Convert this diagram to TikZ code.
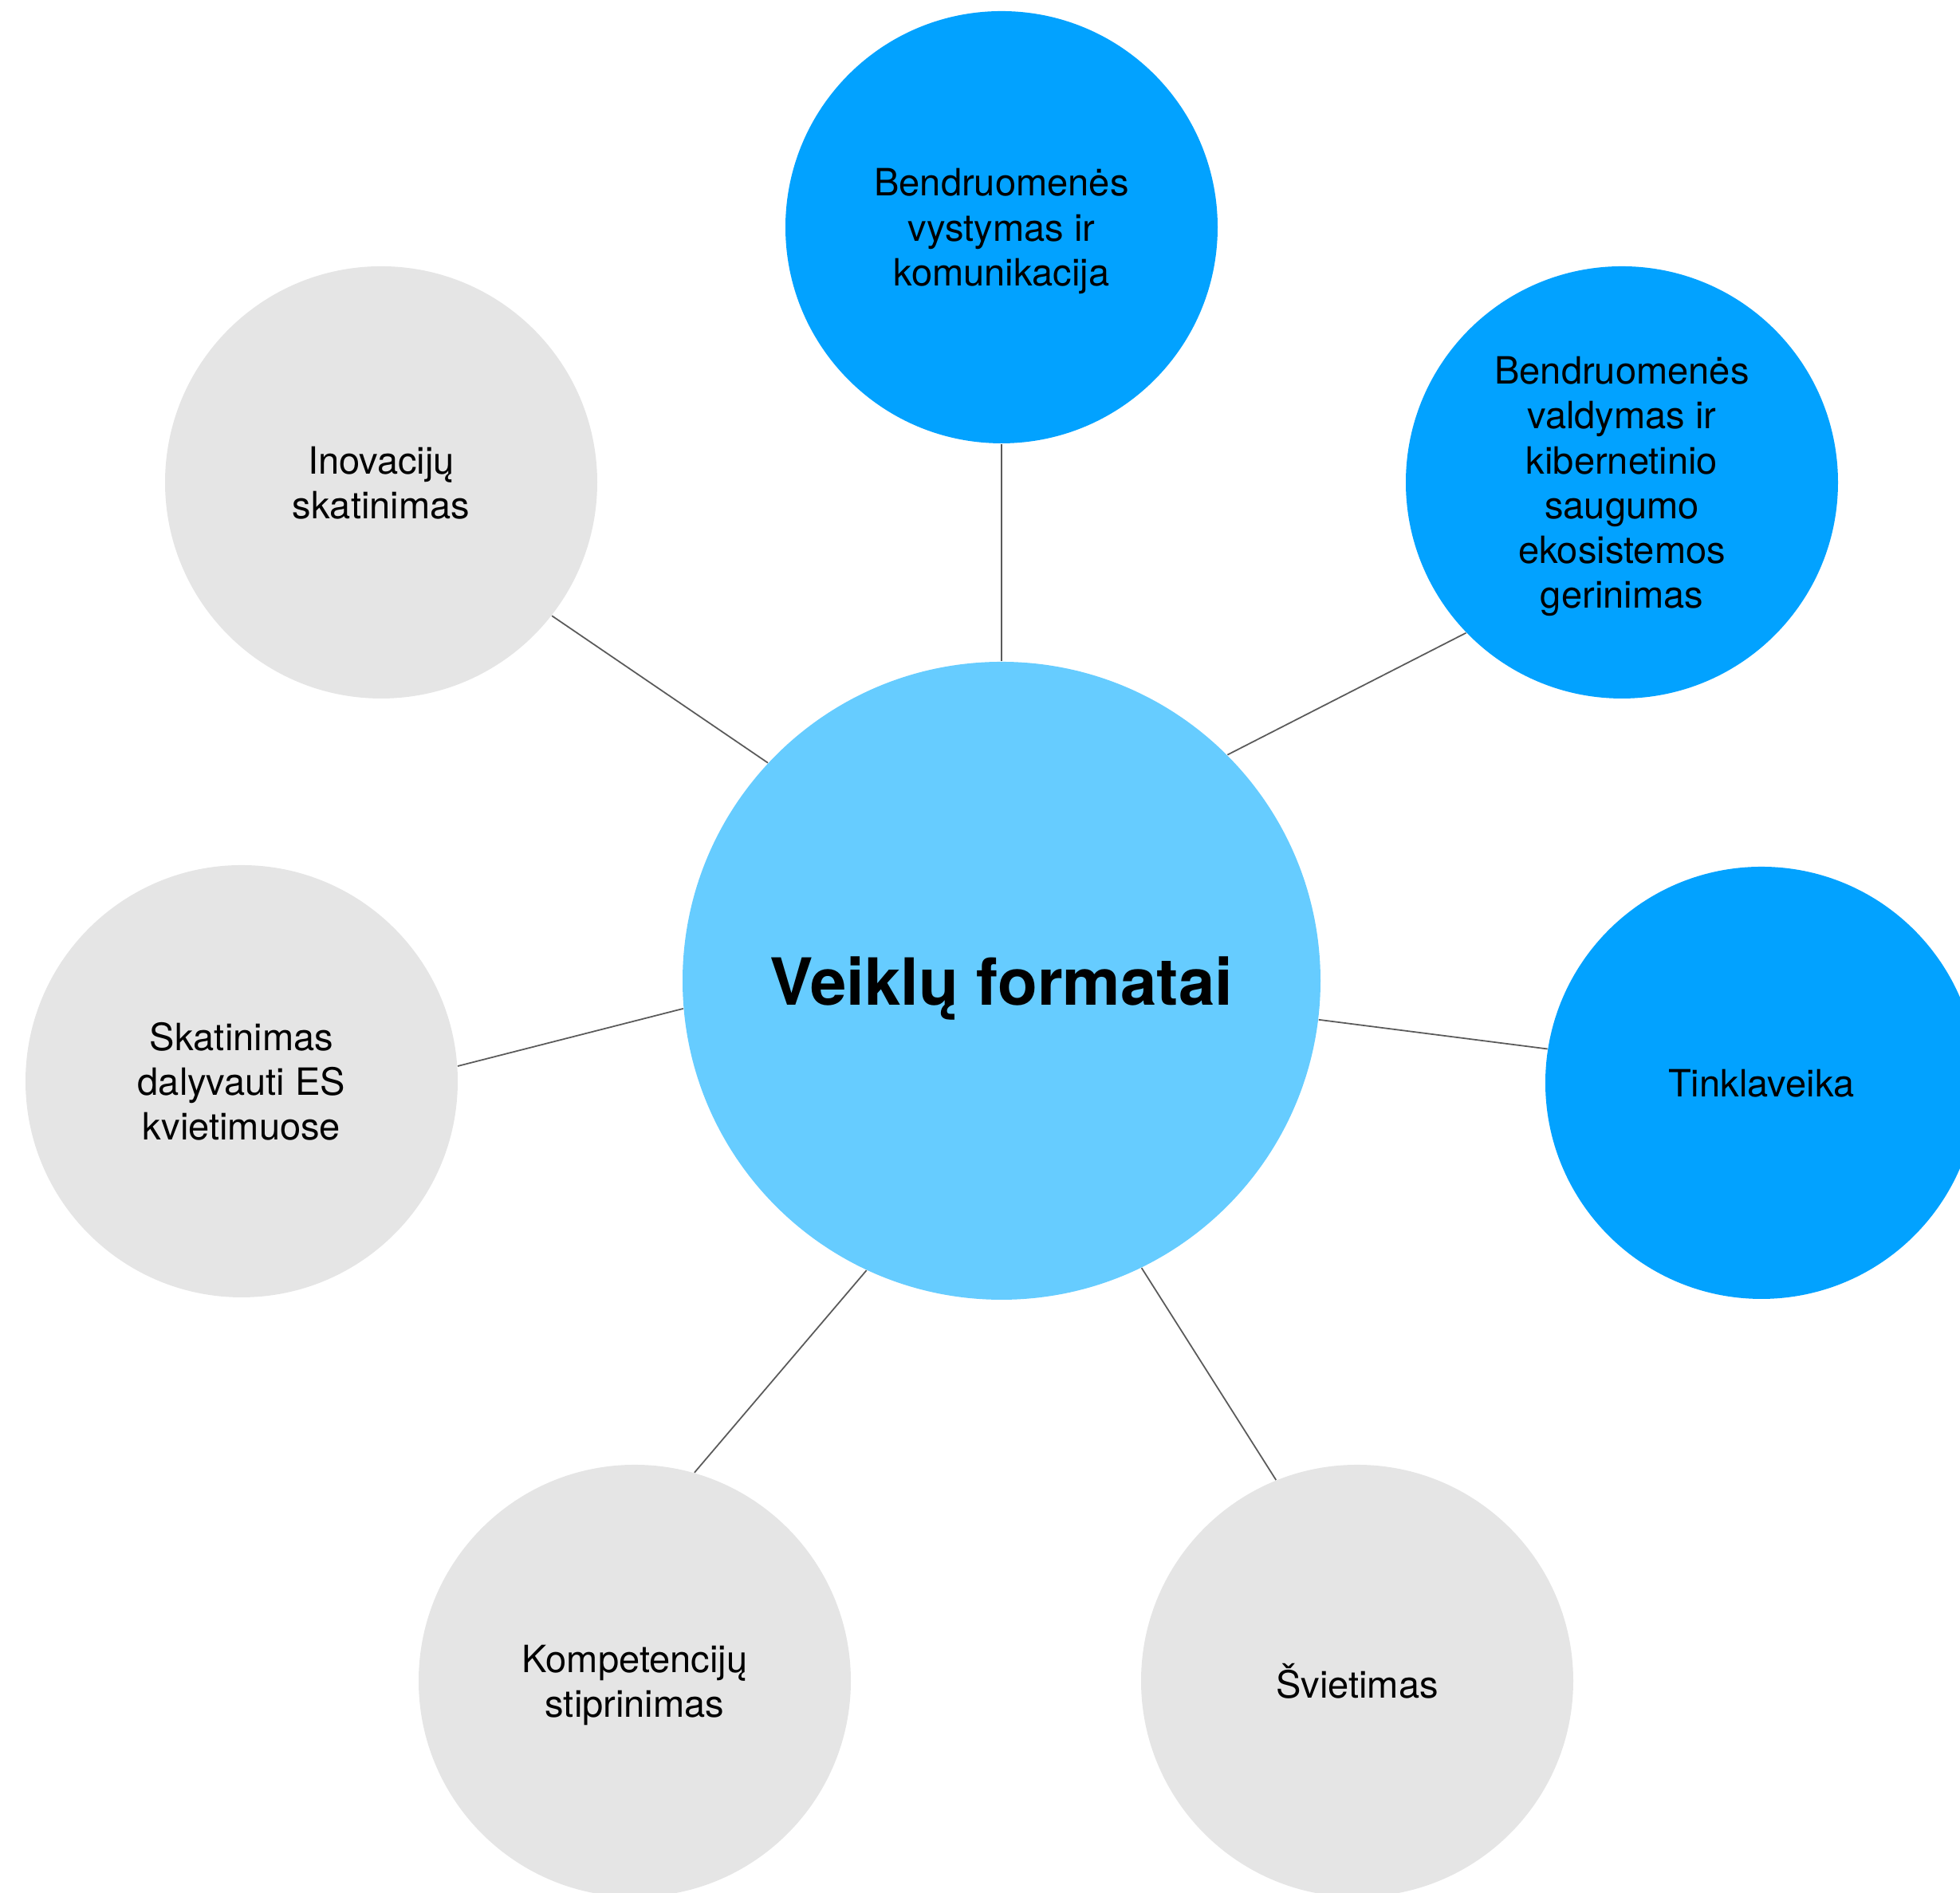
\documentclass[tikz,border=0pt]{standalone}
\usepackage{fontspec}
\setmainfont{TeX Gyre Heros}
\usepackage{tikz}

\definecolor{centerblue}{RGB}{102,204,255}
\definecolor{topicblue}{RGB}{2,162,255}
\definecolor{topicgray}{RGB}{229,229,229}
\definecolor{linkgray}{RGB}{90,90,90}

\begin{document}
\begin{tikzpicture}[-,auto,
                every edge/.style={draw=linkgray, line width=0.5pt},
                topic node/.style={circle, minimum size=5.42cm, inner sep=0pt, align=center, text depth=0pt,
                                   font=\fontsize{13.4}{16}\selectfont}]

            \clip (0,0) rectangle (24.58,23.74);

            \node[fill=centerblue, circle, minimum size=8cm, inner sep=0pt, text depth=0pt,
                  font=\fontsize{23.2}{28}\selectfont\bfseries] (0) at (12.56,11.44) {Veiklų formatai};

            \node[topic node, fill=topicblue] (1) at (12.56,20.89) {Bendruomenės\\vystymas ir\\komunikacija};
            \node[topic node, fill=topicblue] (2) at (20.34,17.69) {Bendruomenės\\valdymas ir\\kibernetinio\\saugumo\\ekosistemos\\gerinimas};
            \node[topic node, fill=topicblue] (3) at (22.09,10.16) {Tinklaveika};
            \node[topic node, fill=topicgray] (4) at (17.02,2.66) {Švietimas};
            \node[topic node, fill=topicgray] (5) at (7.96,2.66) {Kompetencijų\\stiprinimas};
            \node[topic node, fill=topicgray] (6) at (3.03,10.18) {Skatinimas\\dalyvauti ES\\kvietimuose};
            \node[topic node, fill=topicgray] (7) at (4.78,17.69) {Inovacijų\\skatinimas};

            \path
            (0.90) edge (1.270)
            (0.45) edge (2.224)
            (0.353) edge (3.171)
            (0.296) edge (4.112)
            (0.245) edge (5.74)
            (0.185) edge (6.4)
            (0.137) edge (7.322);

        \end{tikzpicture}
\end{document}
